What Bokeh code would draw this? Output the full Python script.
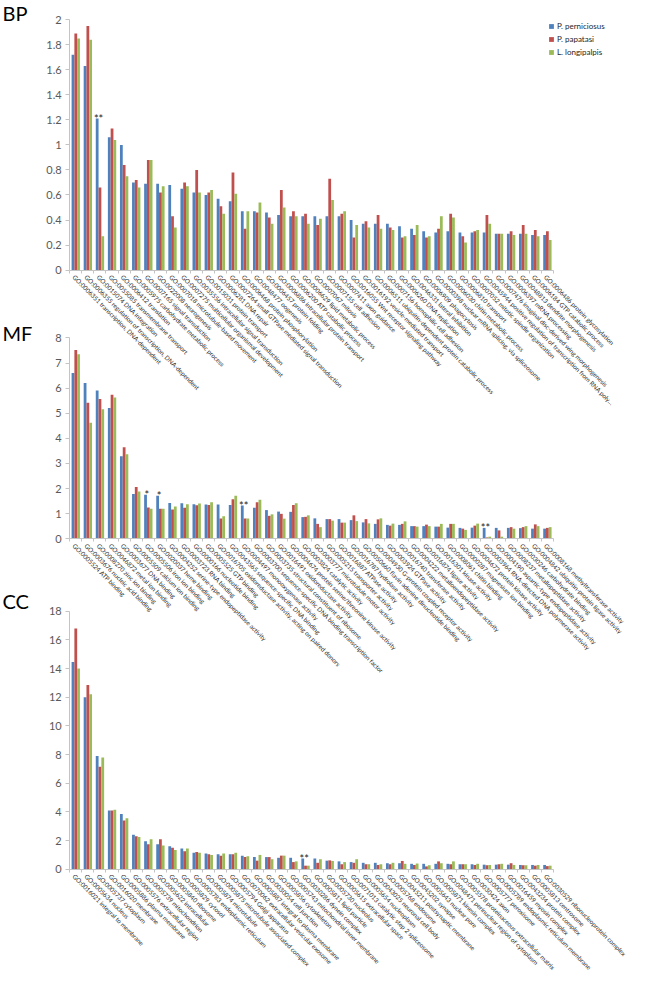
import math
from bokeh.plotting import figure
from bokeh.models import (ColumnDataSource, Range1d, FixedTicker, Legend, LegendItem,
                          LabelSet, Label, LinearAxis)
from bokeh.layouts import column
from bokeh.transform import dodge
from bokeh.embed import file_html
from bokeh.resources import INLINE
from bokeh.core.properties import value

SERIES = ["P. perniciosus", "P. papatasi", "L. longipalpis"]
COLORS = ["#4F81BD", "#C0504D", "#9BBB59"]

# ---------------- BP ----------------
bp_terms = [
    "GO:0006351 transcription, DNA-dependent",
    "GO:0006355 regulation of transcription, DNA-dependent",
    "GO:0015074 DNA integration",
    "GO:0055085 transmembrane transport",
    "GO:0006412 translation",
    "GO:0005975 carbohydrate metabolic process",
    "GO:0007165 signal transduction",
    "GO:0022008 neurogenesis",
    "GO:0007018 microtubule-based movement",
    "GO:0007275 multicellular organismal development",
    "GO:0035556 intracellular signal transduction",
    "GO:0015031 protein transport",
    "GO:0006281 DNA repair",
    "GO:0007264 small GTPase mediated signal transduction",
    "GO:0006468 protein phosphorylation",
    "GO:0048477 oogenesis",
    "GO:0006457 protein folding",
    "GO:0006886 intracellular protein transport",
    "GO:0006200 ATP catabolic process",
    "GO:0006629 lipid metabolic process",
    "GO:0007067 mitosis",
    "GO:0007155 cell adhesion",
    "GO:0007411 axon guidance",
    "GO:0016055 Wnt receptor signaling pathway",
    "GO:0016192 vesicle-mediated transport",
    "GO:0006511 ubiquitin-dependent protein catabolic process",
    "GO:0007156 homophilic cell adhesion",
    "GO:0006260 DNA replication",
    "GO:0046331 lateral inhibition",
    "GO:0006909 phagocytosis",
    "GO:0000398 nuclear mRNA splicing, via spliceosome",
    "GO:0006030 chitin metabolic process",
    "GO:0006810 transport",
    "GO:0007052 mitotic spindle organization",
    "GO:0045944 positive regulation of transcription from RNA poly\u2026",
    "GO:0007476 imaginal disc-derived wing morphogenesis",
    "GO:0006397 mRNA processing",
    "GO:0048813 dendrite morphogenesis",
    "GO:0006184 GTP catabolic process",
    "GO:0006486 protein glycosylation",
]
bp_perniciosus = [1.72, 1.63, 1.21, 1.06, 1.00, 0.70, 0.69, 0.69, 0.68, 0.65,
                  0.62, 0.60, 0.57, 0.55, 0.47, 0.47, 0.46, 0.44, 0.43, 0.43,
                  0.43, 0.43, 0.43, 0.40, 0.37, 0.37, 0.37, 0.35, 0.33, 0.31,
                  0.30, 0.31, 0.30, 0.30, 0.30, 0.29, 0.29, 0.29, 0.28, 0.28]
bp_papatasi = [1.89, 1.95, 0.66, 1.13, 0.84, 0.72, 0.88, 0.62, 0.43, 0.70,
               0.80, 0.62, 0.51, 0.78, 0.33, 0.46, 0.42, 0.64, 0.47, 0.45,
               0.36, 0.73, 0.45, 0.26, 0.39, 0.44, 0.34, 0.26, 0.28, 0.26,
               0.33, 0.45, 0.27, 0.31, 0.44, 0.29, 0.31, 0.36, 0.32, 0.31]
bp_longipalpis = [1.85, 1.84, 0.27, 1.04, 0.75, 0.66, 0.88, 0.67, 0.34, 0.67,
                  0.62, 0.64, 0.45, 0.61, 0.47, 0.54, 0.37, 0.50, 0.43, 0.37,
                  0.41, 0.56, 0.47, 0.36, 0.34, 0.33, 0.32, 0.27, 0.36, 0.27,
                  0.43, 0.42, 0.22, 0.32, 0.37, 0.29, 0.28, 0.29, 0.27, 0.24]
bp_ticks = [0, 0.2, 0.4, 0.6, 0.8, 1, 1.2, 1.4, 1.6, 1.8, 2]
bp_star_index = [2]
bp_star_text = ["**"]

# ---------------- MF ----------------
mf_terms = [
    "GO:0005524 ATP binding",
    "GO:0003676 nucleic acid binding",
    "GO:0008270 zinc ion binding",
    "GO:0046872 metal ion binding",
    "GO:0003677 DNA binding",
    "GO:0005509 calcium ion binding",
    "GO:0005506 iron ion binding",
    "GO:0020037 heme binding",
    "GO:0004252 serine-type endopeptidase activity",
    "GO:0003723 RNA binding",
    "GO:0000166 nucleotide binding",
    "GO:0005525 GTP binding",
    "GO:0016705 oxidoreductase activity, acting on paired donors",
    "GO:0043565 sequence-specific DNA binding",
    "GO:0004497 monooxygenase activity",
    "GO:0003700 sequence-specific DNA binding transcription factor",
    "GO:0003735 structural constituent of ribosome",
    "GO:0016491 oxidoreductase activity",
    "GO:0004674 protein serine/threonine kinase activity",
    "GO:0003824 catalytic activity",
    "GO:0003777 microtubule motor activity",
    "GO:0005215 transporter activity",
    "GO:0016887 ATPase activity",
    "GO:0016787 hydrolase activity",
    "GO:0050660 flavin adenine dinucleotide binding",
    "GO:0004930 G-protein coupled receptor activity",
    "GO:0003924 GTPase activity",
    "GO:0016740 transferase activity",
    "GO:0004222 metalloendopeptidase activity",
    "GO:0016874 ligase activity",
    "GO:0016301 kinase activity",
    "GO:0008061 chitin binding",
    "GO:0000287 magnesium ion binding",
    "GO:0004672 protein kinase activity",
    "GO:0003964 RNA-directed DNA polymerase activity",
    "GO:0004190 aspartic-type endopeptidase activity",
    "GO:0008237 metallopeptidase activity",
    "GO:0030246 carbohydrate binding",
    "GO:0004842 ubiquitin-protein ligase activity",
    "GO:0008168 methyltransferase activity",
]
mf_perniciosus = [6.60, 6.21, 5.91, 5.21, 3.29, 1.78, 1.75, 1.71, 1.42, 1.41,
                  1.37, 1.36, 1.36, 1.34, 1.32, 1.23, 1.14, 1.08, 1.07, 0.86,
                  0.81, 0.78, 0.78, 0.74, 0.65, 0.59, 0.55, 0.55, 0.50, 0.50,
                  0.48, 0.44, 0.43, 0.44, 0.43, 0.43, 0.43, 0.42, 0.40, 0.40]
mf_papatasi = [7.52, 5.42, 5.57, 5.74, 3.64, 2.06, 1.24, 1.19, 1.16, 1.23,
               1.33, 1.34, 0.80, 1.57, 0.80, 1.45, 0.91, 0.99, 1.34, 0.87,
               0.59, 0.78, 0.64, 0.93, 0.78, 0.77, 0.52, 0.59, 0.50, 0.56,
               0.48, 0.59, 0.40, 0.52, 0.05, 0.33, 0.46, 0.46, 0.57, 0.43]
mf_longipalpis = [7.35, 4.62, 5.16, 5.63, 3.37, 1.88, 1.19, 1.19, 1.28, 1.37,
                  1.40, 1.45, 0.89, 1.71, 0.80, 1.55, 0.97, 0.80, 1.41, 0.93,
                  0.46, 0.72, 0.64, 0.70, 0.61, 0.81, 0.60, 0.69, 0.48, 0.50,
                  0.59, 0.59, 0.35, 0.60, 0.08, 0.08, 0.40, 0.50, 0.50, 0.46]
mf_ticks = [0, 1, 2, 3, 4, 5, 6, 7, 8]
mf_star_index = [6, 7, 14, 34]
mf_star_text = ["*", "*", "**", "**"]

# ---------------- CC ----------------
cc_terms = [
    "GO:0016021 integral to membrane",
    "GO:0005634 nucleus",
    "GO:0005737 cytoplasm",
    "GO:0016020 membrane",
    "GO:0005886 plasma membrane",
    "GO:0005576 extracellular region",
    "GO:0005739 mitochondrion",
    "GO:0005622 intracellular",
    "GO:0005840 ribosome",
    "GO:0005829 cytosol",
    "GO:0005783 endoplasmic reticulum",
    "GO:0005874 microtubule",
    "GO:0005875 microtubule associated complex",
    "GO:0005794 Golgi apparatus",
    "GO:0070062 extracellular vesicular exosome",
    "GO:0005887 integral to plasma membrane",
    "GO:0030054 cell junction",
    "GO:0005856 cytoskeleton",
    "GO:0005743 mitochondrial inner membrane",
    "GO:0030286 dynein complex",
    "GO:0005811 lipid particle",
    "GO:0005730 nucleolus",
    "GO:0005615 extracellular space",
    "GO:0071013 catalytic step 2 spliceosome",
    "GO:0005654 nucleoplasm",
    "GO:0043025 neuronal cell body",
    "GO:0005768 endosome",
    "GO:0045211 postsynaptic membrane",
    "GO:0045202 synapse",
    "GO:0005643 nuclear pore",
    "GO:0005871 kinesin complex",
    "GO:0048471 perinuclear region of cytoplasm",
    "GO:0005578 proteinaceous extracellular matrix",
    "GO:0030424 axon",
    "GO:0005777 peroxisome",
    "GO:0005789 endoplasmic reticulum membrane",
    "GO:0016459 myosin complex",
    "GO:0043234 protein complex",
    "GO:0005813 centrosome",
    "GO:0030529 ribonucleoprotein complex",
]
cc_perniciosus = [14.45, 12.0, 7.9, 4.1, 3.85, 2.4, 1.95, 1.75, 1.6, 1.45,
                  1.15, 1.1, 1.05, 1.05, 0.95, 0.85, 0.85, 0.8, 0.8, 0.75,
                  0.75, 0.6, 0.55, 0.5, 0.45, 0.45, 0.42, 0.42, 0.38, 0.38,
                  0.38, 0.38, 0.35, 0.35, 0.32, 0.32, 0.32, 0.3, 0.3, 0.3]
cc_papatasi = [16.8, 12.85, 7.15, 4.1, 3.4, 2.3, 1.75, 2.1, 1.5, 1.25,
               1.2, 1.05, 0.95, 1.05, 0.85, 0.6, 0.85, 0.95, 0.5, 0.25,
               0.45, 0.62, 0.35, 0.45, 0.35, 0.3, 0.35, 0.58, 0.3, 0.2,
               0.55, 0.35, 0.35, 0.3, 0.28, 0.35, 0.42, 0.28, 0.25, 0.22]
cc_longipalpis = [14.0, 12.2, 7.8, 4.15, 3.55, 2.25, 2.1, 1.65, 1.35, 1.45,
                  1.15, 1.0, 1.1, 1.15, 0.9, 1.0, 0.7, 0.95, 0.55, 0.25,
                  0.7, 0.58, 0.5, 0.7, 0.35, 0.35, 0.45, 0.38, 0.4, 0.28,
                  0.42, 0.55, 0.35, 0.38, 0.3, 0.38, 0.3, 0.28, 0.3, 0.25]
cc_ticks = [0, 2, 4, 6, 8, 10, 12, 14, 16, 18]
cc_star_index = [19]
cc_star_text = ["**"]

# ---------------- layout ----------------
FIG_W = 631
SX = 631 / 647
SY = 976 / 992
AXIS_X = 72 * SX - 1      # y-axis position (px in figure)
CAT_END = 569 * SX - 2    # end of the category axis (px in figure)
FONT = "Lato"
BAR_W = 0.23
AXIS_COLOR = "#c4c4c4"


def make_panel(title, terms, series, ticks, star_idx, star_txt,
               ref_top, ref_bottom, ref_vmax, ref_zero, with_legend=False):
    top = round(ref_top * SY)
    height = round(ref_bottom * SY) - top
    vmax_px = ref_vmax * SY - top
    zero_px = ref_zero * SY - top
    n = len(terms)
    vmax = ticks[-1]
    cat_px = (CAT_END - AXIS_X) / n
    ppu = (zero_px - vmax_px) / vmax
    x0 = -AXIS_X / cat_px
    x1 = (FIG_W - AXIS_X) / cat_px
    y1 = vmax + vmax_px / ppu
    y0 = -(height - zero_px) / ppu
    p = figure(width=FIG_W, height=height,
               x_range=Range1d(x0, x1), y_range=Range1d(y0, y1),
               x_axis_location=None, y_axis_location=None,
               min_border=0, min_border_left=0, min_border_right=0,
               min_border_top=0, min_border_bottom=0,
               output_backend="svg", toolbar_location=None)
    p.background_fill_color = None
    p.border_fill_color = None
    p.outline_line_color = None
    p.xgrid.visible = False
    p.ygrid.visible = False

    xa = LinearAxis(fixed_location=0, bounds=(0, n),
                    ticker=FixedTicker(ticks=list(range(n + 1))),
                    major_label_overrides={i: "" for i in range(n + 1)},
                    major_label_text_font_size="1px",
                    axis_line_color=AXIS_COLOR, major_tick_line_color=AXIS_COLOR,
                    major_tick_in=0, major_tick_out=3,
                    minor_tick_in=0, minor_tick_out=0)
    p.add_layout(xa, "below")

    ya = LinearAxis(fixed_location=0, bounds=(0, vmax),
                    ticker=FixedTicker(ticks=ticks),
                    major_label_overrides={t: f"{t:g}" for t in ticks},
                    axis_line_color=AXIS_COLOR, major_tick_line_color=AXIS_COLOR,
                    major_tick_in=0, major_tick_out=4,
                    minor_tick_in=0, minor_tick_out=0,
                    major_label_standoff=4,
                    major_label_text_font=FONT,
                    major_label_text_font_size="11px",
                    major_label_text_color="#595959")
    p.add_layout(ya, "left")

    src = ColumnDataSource(dict(
        x=[i + 0.5 for i in range(n)], term=terms,
        s0=series[0], s1=series[1], s2=series[2]))
    renderers = []
    for k, (col, color) in enumerate(zip(["s0", "s1", "s2"], COLORS)):
        r = p.vbar(x=dodge("x", (k - 1) * BAR_W, range=p.x_range), top=col,
                   width=BAR_W, source=src, fill_color=color, line_color=None)
        renderers.append(r)

    labels = LabelSet(source=src, x="x", y=0, text="term",
                      angle=-math.pi / 4, angle_units="rad",
                      x_offset=-2, y_offset=-6,
                      text_font=value(FONT), text_font_size=value("6.3px"),
                      text_color=value("#2b2b2b"), text_align=value("left"),
                      text_baseline=value("middle"))
    p.add_layout(labels)

    star_src = ColumnDataSource(dict(
        x=[i + 0.5 - BAR_W / 2 for i in star_idx],
        y=[series[0][i] for i in star_idx], t=star_txt))
    p.text(x="x", y="y", text="t", source=star_src,
           text_font=value(FONT), text_font_size=value("11px"),
           text_color="#222222", text_align="center", text_baseline="alphabetic")

    p.add_layout(Label(x=x0 + 2 * SX / cat_px, y=y1,
                       text=title, text_font=FONT, text_font_size="20px",
                       text_color="black", text_baseline="top", text_align="left"))

    if with_legend:
        leg_h = 33
        leg_top = round(24 * SY) - top
        legend = Legend(items=[LegendItem(label=s, renderers=[r])
                               for s, r in zip(SERIES, renderers)],
                        location=(round(562 * SX), height - leg_top - leg_h),
                        glyph_width=6, glyph_height=6, label_height=9,
                        label_standoff=3, spacing=3, padding=0, margin=0,
                        border_line_color=None, background_fill_color=None,
                        label_text_font=FONT, label_text_font_size="8px",
                        label_text_color="#262626")
        p.add_layout(legend)
    return p, top, height


bp, bp_top, bp_h = make_panel("BP", bp_terms, [bp_perniciosus, bp_papatasi, bp_longipalpis],
                              bp_ticks, bp_star_index, bp_star_text,
                              0, 425, 19.5, 274, with_legend=True)
mf, mf_top, mf_h = make_panel("MF", mf_terms, [mf_perniciosus, mf_papatasi, mf_longipalpis],
                              mf_ticks, mf_star_index, mf_star_text,
                              325, 700, 343, 547)
cc, cc_top, cc_h = make_panel("CC", cc_terms, [cc_perniciosus, cc_papatasi, cc_longipalpis],
                              cc_ticks, cc_star_index, cc_star_text,
                              598, 992, 620.7, 883)

mf.margin = (mf_top - (bp_top + bp_h), 0, 0, 0)
cc.margin = (cc_top - (mf_top + mf_h), 0, 0, 0)

layout = column(bp, mf, cc, spacing=0)
open("out.html", "w").write(file_html(layout, INLINE))
